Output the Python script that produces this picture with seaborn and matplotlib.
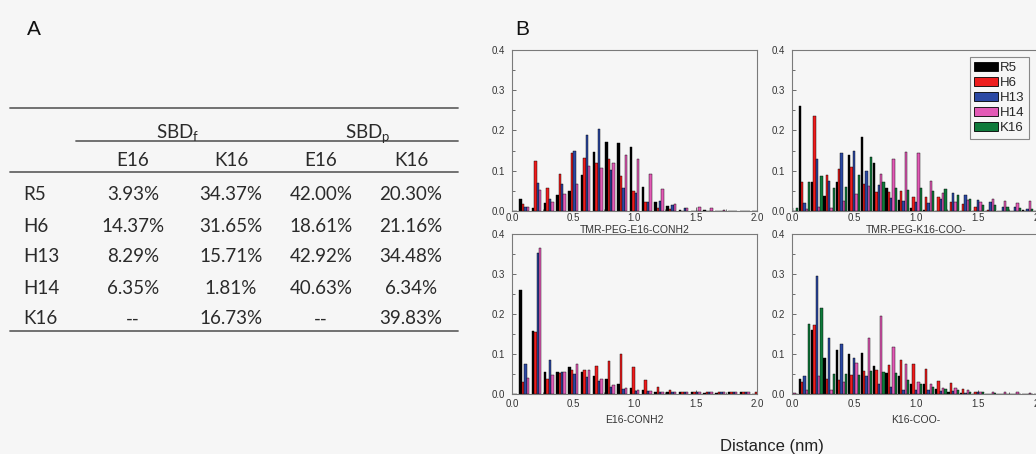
import pandas as pd
import matplotlib
matplotlib.use("Agg")
import matplotlib.pyplot as plt
from matplotlib.patches import Patch
from matplotlib.ticker import MultipleLocator, FormatStrFormatter
import seaborn as sns

# === DATA ===
# bin centres of the distance histograms (nm)
distance = [0.0, 0.1, 0.2, 0.3, 0.4, 0.5, 0.6, 0.7, 0.8, 0.9, 1.0,
            1.1, 1.2, 1.3, 1.4, 1.5, 1.6, 1.7, 1.8, 1.9, 2.0]
residues = ["R5", "H6", "H13", "H14", "K16"]
res_colors = ["#000000", "#ee1d1d", "#2b48a3", "#e35ab6", "#0f7a3b"]

# TMR-PEG-E16-CONH2
peg_e16_r5 = [0, .030, .008, .021, .040, .050, .090, .147, .172, .170, .160, .060, .023, .012, .003, 0, .003, 0, 0, 0, 0]
peg_e16_h6 = [0, .017, .125, .056, .093, .145, .132, .120, .128, .087, .050, .023, .007, .004, 0, 0, 0, 0, 0, 0, 0]
peg_e16_h13 = [0, .010, .070, .029, .066, .149, .190, .203, .102, .057, .045, .023, .024, .014, .008, 0, 0, 0, 0, 0, 0]
peg_e16_h14 = [0, .010, .052, .022, .043, .067, .113, .108, .120, .138, .129, .093, .055, .017, .008, .011, .007, .003, 0, 0, 0]

# TMR-PEG-K16-COO-
peg_k16_r5 = [0, .262, .071, .037, .071, .140, .185, .120, .056, .027, .008, .003, 0, 0, 0, 0, 0, 0, 0, .002, 0]
peg_k16_h6 = [0, .071, .236, .089, .105, .109, .067, .046, .048, .050, .034, .035, .036, .023, .017, .009, .002, 0, 0, 0, 0]
peg_k16_h13 = [.007, .021, .128, .075, .143, .148, .099, .065, .032, .024, .023, .020, .030, .044, .040, .027, .022, .011, .009, .004, 0]
peg_k16_h14 = [0, .005, .011, .008, .025, .042, .062, .092, .130, .147, .143, .075, .045, .023, .027, .023, .030, .026, .021, .026, 0]
peg_k16_k16 = [.007, .073, .087, .056, .060, .089, .133, .072, .057, .052, .056, .050, .054, .040, .030, .015, .015, .009, .007, .006, 0]

# E16-CONH2
e16_r5 = [0, .260, .159, .055, .055, .068, .055, .046, .038, .026, .016, .011, .007, .005, .005, .005, .004, .004, .005, .005, 0]
e16_h6 = [0, .030, .155, .038, .054, .061, .062, .070, .084, .101, .069, .036, .018, .010, .007, .006, .007, .006, .006, .006, .005]
e16_h13 = [0, .076, .354, .086, .055, .051, .044, .033, .018, .013, .009, .008, .007, .006, .006, .006, .007, .007, .007, .006, 0]
e16_h14 = [0, .040, .365, .049, .055, .077, .062, .038, .023, .017, .011, .008, .005, .005, .006, .006, .006, .006, .005, .006, 0]

# K16-COO-
k16_r5 = [0, .038, .160, .090, .110, .101, .103, .072, .053, .045, .025, .025, .013, .005, .004, .002, .002, 0, .002, .002, 0]
k16_h6 = [0, .032, .173, .038, .035, .048, .058, .062, .073, .085, .076, .063, .033, .029, .013, .007, .002, .002, 0, 0, 0]
k16_h13 = [.004, .045, .295, .140, .126, .092, .047, .025, .018, .012, .010, .010, .008, .008, .003, .007, .002, 0, 0, 0, 0]
k16_h14 = [.004, .010, .045, .010, .030, .079, .141, .197, .118, .075, .032, .025, .015, .015, .010, .007, .007, .006, .005, .004, .004]
k16_k16 = [0, .177, .216, .050, .050, .048, .058, .055, .053, .037, .025, .018, .013, .010, .007, .007, .003, .002, .002, 0, 0]

# table (panel A)
table_rows = ["R5", "H6", "H13", "H14", "K16"]
table_cols = ["E16", "K16", "E16", "K16"]
sbdf_e16 = ["3.93%", "14.37%", "8.29%", "6.35%", "--"]
sbdf_k16 = ["34.37%", "31.65%", "15.71%", "1.81%", "16.73%"]
sbdp_e16 = ["42.00%", "18.61%", "42.92%", "40.63%", "--"]
sbdp_k16 = ["20.30%", "21.16%", "34.48%", "6.34%", "39.83%"]

BG = "#f6f6f6"
W, H = 1036, 454

sns.set_style("ticks")
plt.rcParams["font.family"] = ["Liberation Sans", "DejaVu Sans"]
plt.rcParams["mathtext.fontset"] = "custom"
plt.rcParams["mathtext.rm"] = "Lato"
plt.rcParams["mathtext.it"] = "Lato"

fig = plt.figure(figsize=(W / 100, H / 100), dpi=100, facecolor=BG)


def box(l, t, r, b):
    # pixel box -> figure fraction rect
    return [l / W, 1 - b / H, (r - l) / W, (b - t) / H]


# === PANEL A: table ===
ax_a = fig.add_axes([0, 0, 1, 1])
ax_a.set_xlim(0, W)
ax_a.set_ylim(H, 0)
ax_a.axis("off")

line_kw = dict(color="#666666", lw=1.3)
ax_a.plot([10, 458], [108, 108], **line_kw)
ax_a.plot([76, 458], [140.7, 140.7], **line_kw)
ax_a.plot([10, 458], [172, 172], **line_kw)
ax_a.plot([10, 458], [330.7, 330.7], **line_kw)

tfont = dict(family="Lato", fontsize=13.5, color="#2a2a2a")
ax_a.text(178, 138, r"SBD$_\mathrm{f}$", ha="center", va="baseline", **tfont)
ax_a.text(368, 138, r"SBD$_\mathrm{p}$", ha="center", va="baseline", **tfont)
col_x = [133, 231, 321, 411]
for cx, name in zip(col_x, table_cols):
    ax_a.text(cx, 166.5, name, ha="center", va="baseline", **tfont)
row_y = [199.5, 231.5, 262, 294, 324.5]
for ry, rname, a, b, c, d in zip(row_y, table_rows, sbdf_e16, sbdf_k16, sbdp_e16, sbdp_k16):
    ax_a.text(23, ry, rname, ha="left", va="baseline", **tfont)
    for cx, v in zip(col_x, [a, b, c, d]):
        ax_a.text(cx, ry, v, ha="center", va="baseline", **tfont)

ax_a.text(27, 35, "A", ha="left", va="baseline", fontsize=15, color="#111111")
ax_a.text(515, 35, "B", ha="left", va="baseline", fontsize=15, color="#111111")
ax_a.text(772, 446, "Distance (nm)", ha="center", va="center", fontsize=12, color="#222222")


# === PANEL B: histograms ===
def to_long(series):
    frames = []
    for name, vals in series.items():
        frames.append(pd.DataFrame({"distance": distance, "freq": vals, "residue": name}))
    return pd.concat(frames, ignore_index=True)


def draw_panel(rect, series, width, xlabel, label_y, tick_pad):
    ax = fig.add_axes(rect)
    ax.set_facecolor(BG)
    names = list(series.keys())
    pal = [res_colors[residues.index(n)] for n in names]
    df = to_long(series)
    sns.barplot(data=df, x="distance", y="freq", hue="residue", hue_order=names,
                palette=pal, native_scale=True, width=width, saturation=1,
                errorbar=None, edgecolor="black", linewidth=0.3, legend=False, ax=ax)
    ax.set_xlim(0, 2.0)
    ax.set_ylim(0, 0.4)
    ax.set_xlabel("")
    ax.set_ylabel("")
    ax.xaxis.set_major_locator(MultipleLocator(0.5))
    ax.xaxis.set_minor_locator(MultipleLocator(0.25))
    ax.yaxis.set_major_locator(MultipleLocator(0.1))
    ax.yaxis.set_minor_locator(MultipleLocator(0.05))
    ax.xaxis.set_major_formatter(FormatStrFormatter("%.1f"))
    ax.yaxis.set_major_formatter(FormatStrFormatter("%.1f"))
    ax.tick_params(which="both", direction="in", width=0.6, color="#555555",
                   labelsize=7, labelcolor="#333333")
    ax.tick_params(which="major", length=3)
    ax.tick_params(which="minor", length=1.8)
    ax.tick_params(axis="x", pad=tick_pad)
    ax.tick_params(axis="y", pad=5)
    for s in ax.spines.values():
        s.set_color("#7a7a7a")
        s.set_linewidth(0.8)
    ax.text(0.5, label_y, xlabel, transform=ax.transAxes, ha="center", va="center",
            fontsize=7.5, color="#333333")
    return ax


ax_tl = draw_panel(box(512, 50, 757, 211),
                   {"R5": peg_e16_r5, "H6": peg_e16_h6, "H13": peg_e16_h13, "H14": peg_e16_h14},
                   0.8, "TMR-PEG-E16-CONH2", -0.118, 1.5)
ax_tr = draw_panel(box(792, 50, 1040, 211),
                   {"R5": peg_k16_r5, "H6": peg_k16_h6, "H13": peg_k16_h13,
                    "H14": peg_k16_h14, "K16": peg_k16_k16},
                   0.95, "TMR-PEG-K16-COO-", -0.118, 1.5)
ax_bl = draw_panel(box(512, 234.3, 757, 394.3),
                   {"R5": e16_r5, "H6": e16_h6, "H13": e16_h13, "H14": e16_h14},
                   0.8, "E16-CONH2", -0.16, 3.5)
ax_br = draw_panel(box(792, 234.3, 1040, 394.3),
                   {"R5": k16_r5, "H6": k16_h6, "H13": k16_h13, "H14": k16_h14, "K16": k16_k16},
                   0.95, "K16-COO-", -0.16, 3.5)

handles = [Patch(facecolor=c, edgecolor="black", linewidth=0.6) for c in res_colors]
leg = ax_tr.legend(handles, residues, loc="upper right", bbox_to_anchor=(0.956, 0.957),
                   borderaxespad=0, fontsize=9.5, frameon=True, fancybox=False,
                   edgecolor="#888888", facecolor=BG, framealpha=1,
                   handlelength=1.8, handleheight=0.7, handletextpad=0.15,
                   labelspacing=0.22, borderpad=0.35)
leg.get_frame().set_linewidth(0.8)

fig.savefig("out.png", dpi=100, facecolor=BG)
